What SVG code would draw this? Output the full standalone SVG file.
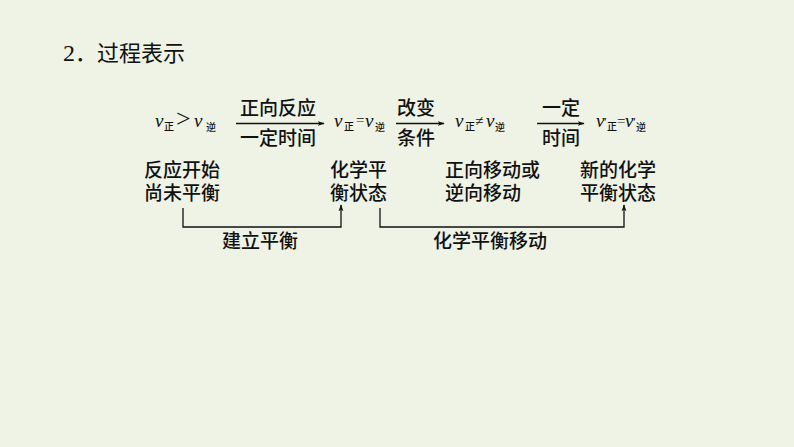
<svg xmlns="http://www.w3.org/2000/svg" width="794" height="447" viewBox="0 0 794 447">
<defs>
<marker id="ah" viewBox="0 0 10 10" refX="9" refY="5" markerWidth="7" markerHeight="7" markerUnits="userSpaceOnUse" orient="auto">
<path d="M0,1.5 L10,5 L0,8.5 L2.5,5 Z" fill="#111"/>
</marker>
<style>
.bg{fill:#eef3e6}
.cn{font-family:"Noto Sans CJK SC","Noto Sans",sans-serif;font-size:19px;font-weight:500;fill:#111}
.t{font-family:"Liberation Serif","Noto Sans CJK SC",serif;font-size:22px;fill:#111}
.v{font-family:"Liberation Serif",serif;font-style:italic;font-size:19px;fill:#111}
.s{font-family:"Noto Sans CJK SC",sans-serif;font-size:10px;font-weight:500;fill:#111}
.op{font-family:"Liberation Serif",serif;font-size:17px;fill:#111}
.ln{stroke:#111;stroke-width:1.3;fill:none}
</style>
</defs>
<rect class="bg" width="794" height="447"/>
<text id="title" x="63" y="61" class="t"><tspan font-size="24">2</tspan><tspan font-family="Noto Sans CJK SC, sans-serif" font-size="22">．过程表示</tspan></text>

<g id="f1"><text class="op">
<tspan class="v" x="155" y="127">v</tspan><tspan class="s" x="164" y="130">正</tspan><tspan x="176" y="127" font-size="26">&gt;</tspan><tspan class="v" x="194" y="127">v</tspan><tspan class="s" x="206" y="131">逆</tspan>
</text></g>

<g id="f2"><text class="op">
<tspan class="v" x="334" y="127">v</tspan><tspan class="s" x="344" y="130">正</tspan><tspan x="356" y="125" font-size="15">=</tspan><tspan class="v" x="365" y="127">v</tspan><tspan class="s" x="375" y="131">逆</tspan>
</text></g>

<g id="f3"><text class="op">
<tspan class="v" x="455" y="127">v</tspan><tspan class="s" x="465" y="130">正</tspan><tspan x="475" y="126" font-size="15">≠</tspan><tspan class="v" x="486" y="127">v</tspan><tspan class="s" x="495" y="131">逆</tspan>
</text></g>

<g id="f4"><text class="op">
<tspan class="v" x="596" y="127">v</tspan><tspan x="604" y="126" font-size="13">′</tspan><tspan class="s" x="607" y="130">正</tspan><tspan x="617" y="126" font-size="15">=</tspan><tspan class="v" x="625" y="127">v</tspan><tspan x="633" y="126" font-size="13">′</tspan><tspan class="s" x="636" y="131">逆</tspan>
</text></g>

<g id="a1-label"><text class="cn" x="240" y="115">正向反应</text><text class="cn" x="240" y="145">一定时间</text></g>
<g id="a2-label"><text class="cn" x="397" y="115">改变</text><text class="cn" x="397" y="145">条件</text></g>
<g id="a3-label"><text class="cn" x="542" y="115">一定</text><text class="cn" x="542" y="145">时间</text></g>

<g id="n1"><text class="cn" x="144" y="177">反应开始</text><text class="cn" x="144" y="199.5">尚未平衡</text></g>
<g id="n2"><text class="cn" x="330" y="177">化学平</text><text class="cn" x="330" y="199.5">衡状态</text></g>
<g id="n3"><text class="cn" x="445" y="177">正向移动或</text><text class="cn" x="445" y="199.5">逆向移动</text></g>
<g id="n4"><text class="cn" x="580" y="177">新的化学</text><text class="cn" x="580" y="199.5">平衡状态</text></g>

<g id="connectors">
<line class="ln" x1="236" y1="123.5" x2="324" y2="123.5" marker-end="url(#ah)"/>
<line class="ln" x1="396" y1="123.5" x2="444" y2="123.5" marker-end="url(#ah)"/>
<line class="ln" x1="537" y1="123.5" x2="584" y2="123.5" marker-end="url(#ah)"/>
<polyline class="ln" points="183,208 183,227 341,227 341,205" marker-end="url(#ah)"/>
<polyline class="ln" points="380,208 380,227 624,227 624,205" marker-end="url(#ah)"/>
</g>
<g id="bracket-labels">
<text class="cn" x="222" y="248">建立平衡</text>
<text class="cn" x="433" y="248">化学平衡移动</text>
</g>
</svg>
